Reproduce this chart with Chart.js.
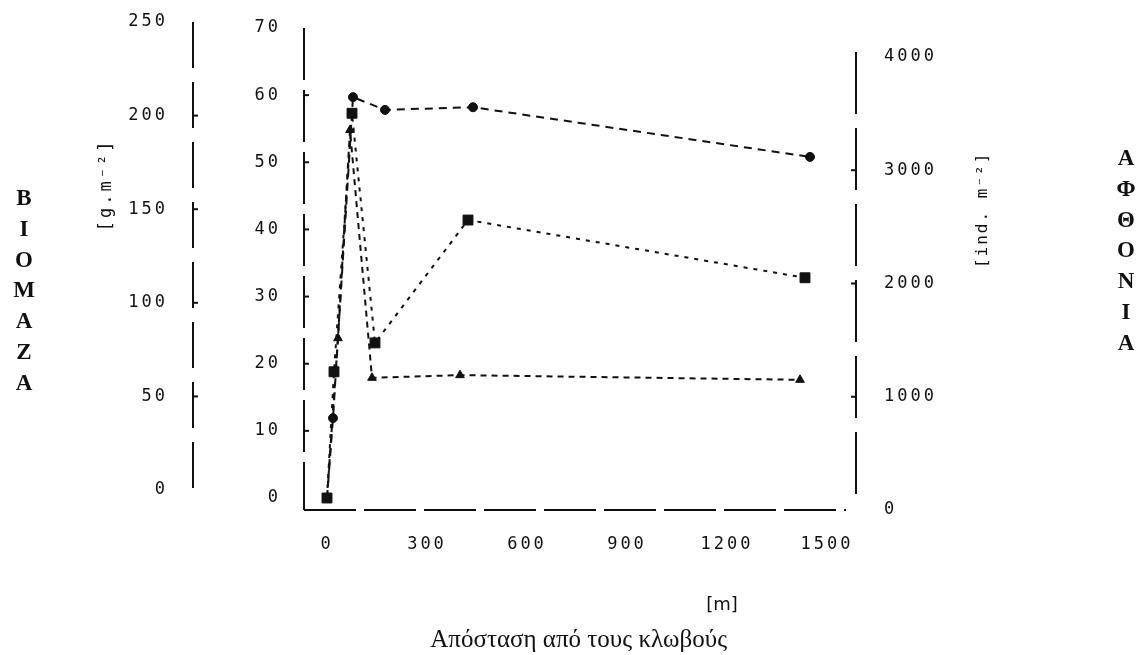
<!DOCTYPE html>
<html lang="el">
<head>
  <meta charset="UTF-8" />
  <meta name="viewport" content="width=device-width, initial-scale=1.0" />
  <title>Βιομάζα και αφθονία</title>
  <script src="https://cdn.jsdelivr.net/npm/chart.js"></script>
  <style>
    html, body { margin: 0; padding: 0; background: #fff; }
    #wrap { position: relative; width: 1142px; height: 655px; }
    .side {
      position: absolute;
      width: 40px;
      text-align: center;
      font: bold 23px "Liberation Serif", serif;
      line-height: 30.8px;
      color: #111;
    }
  </style>
</head>
<body>
  <div id="wrap">
    <canvas id="chart"></canvas>
    <div class="side" style="left:4px; top:183px">Β<br>Ι<br>Ο<br>Μ<br>Α<br>Ζ<br>Α</div>
    <div class="side" style="left:1106px; top:143px">Α<br>Φ<br>Θ<br>Ο<br>Ν<br>Ι<br>Α</div>
  </div>

  <script>
    // distance from the cages [m] and values (inner 0-70 axis)
    const starX = [0, 18, 78, 174, 438, 1449];
    const starY = [0, 11.9, 59.7, 57.8, 58.2, 50.8];
    const squareX = [0, 21, 75, 144, 423, 1434];
    const squareY = [0, 18.8, 57.3, 23.1, 41.4, 32.8];
    const triX = [0, 33, 69, 135, 399, 1419];
    const triY = [0, 23.8, 54.8, 17.9, 18.3, 17.6];

    // tick labels
    const xTicks = [0, 300, 600, 900, 1200, 1500];
    const innerTicks = [0, 10, 20, 30, 40, 50, 60, 70];
    const biomassTicks = [0, 50, 100, 150, 200, 250];
    const abundanceTicks = [0, 1000, 2000, 3000, 4000];

    const ink = '#111';
    const tickFont = { family: '"DejaVu Sans Mono", monospace', size: 17 };
    const pts = (xs, ys) => xs.map((x, i) => ({ x, y: ys[i] }));
    const setTicks = vals => s => { s.ticks = vals.map(v => ({ value: v })); };

    // invisible tick marks push the labels away from the axis
    // (tick padding would also grow the top padding of the chart area)
    const gap = len => ({
      display: true,
      drawOnChartArea: false,
      drawTicks: true,
      tickLength: len,
      color: 'rgba(0,0,0,0)'
    });

    const vertical = (ctx, text, x, y, font, spacing) => {
      ctx.save();
      ctx.translate(x, y);
      ctx.rotate(-Math.PI / 2);
      ctx.font = font;
      ctx.letterSpacing = spacing;
      ctx.fillText(text, 0, 0);
      ctx.restore();
    };

    // broken axis lines like the scanned figure, with short inward tick stubs
    const dashedAxes = {
      id: 'dashedAxes',
      beforeDatasetsDraw(chart) {
        const { ctx, scales, chartArea } = chart;
        const seg = (x1, y1, x2, y2, dash) => {
          ctx.setLineDash(dash);
          ctx.beginPath();
          ctx.moveTo(x1, y1);
          ctx.lineTo(x2, y2);
          ctx.stroke();
        };
        ctx.save();
        ctx.strokeStyle = ink;
        ctx.lineWidth = 2;
        const yB = scales.yB, y = scales.y, yR = scales.yR;
        seg(yB.right, yB.getPixelForValue(250), yB.right, yB.getPixelForValue(0) + 3, [46, 14]);
        seg(y.right, y.getPixelForValue(70), y.right, chartArea.bottom, [52, 10]);
        seg(yR.left, yR.getPixelForValue(4000) - 5, yR.left, chartArea.bottom - 10, [62, 14]);
        seg(chartArea.left, chartArea.bottom, chartArea.right - 10, chartArea.bottom, [52, 8]);
        ctx.setLineDash([]);
        biomassTicks.slice(1, -1).forEach(v => seg(yB.right, yB.getPixelForValue(v), yB.right + 5, yB.getPixelForValue(v), []));
        innerTicks.slice(1, -1).forEach(v => seg(y.right, y.getPixelForValue(v), y.right + 5, y.getPixelForValue(v), []));
        abundanceTicks.slice(1, -1).forEach(v => seg(yR.left, yR.getPixelForValue(v), yR.left - 5, yR.getPixelForValue(v), []));
        ctx.restore();
      }
    };

    const axisText = {
      id: 'axisText',
      beforeLayout(chart) { chart.ctx.letterSpacing = '3px'; },
      beforeDraw(chart) { chart.ctx.letterSpacing = '3px'; },
      afterDraw(chart) {
        const { ctx, scales, chartArea } = chart;
        ctx.save();
        ctx.fillStyle = ink;
        ctx.textAlign = 'center';
        ctx.textBaseline = 'middle';
        vertical(ctx, '[g.m⁻²]', scales.yB.left + 107, scales.yB.getPixelForValue(163),
          '17px "DejaVu Sans Mono"', '3px');
        vertical(ctx, '[ind. m⁻²]', scales.yR.left + 127, scales.yR.getPixelForValue(2650),
          '16px "DejaVu Sans Mono"', '2px');
        ctx.letterSpacing = '0px';
        ctx.font = '18px "DejaVu Sans"';
        ctx.fillText('[m]', scales.x.getPixelForValue(1185), chartArea.bottom + 95);
        ctx.font = '25px "Liberation Serif"';
        ctx.fillText('Απόσταση από τους κλωβούς', scales.x.getPixelForValue(755), chartArea.bottom + 130);
        ctx.restore();
      }
    };

    const series = (data, dash, style, radius) => ({
      data,
      yAxisID: 'y',
      borderColor: ink,
      borderWidth: 2,
      borderDash: dash,
      pointStyle: style,
      pointRadius: radius,
      pointBackgroundColor: ink,
      pointBorderColor: ink,
      pointBorderWidth: 1,
      fill: false,
      tension: 0
    });

    new Chart(document.getElementById('chart'), {
      type: 'line',
      data: {
        datasets: [
          series(pts(starX, starY), [8, 6], 'circle', 4.5),
          series(pts(squareX, squareY), [4, 6], 'rect', 7),
          series(pts(triX, triY), [6, 5], 'triangle', 5)
        ]
      },
      options: {
        responsive: true,
        maintainAspectRatio: false,
        animation: false,
        events: [],
        layout: { padding: { top: 20, left: 0, right: 0, bottom: 0 } },
        plugins: { legend: { display: false }, tooltip: { enabled: false } },
        scales: {
          x: {
            type: 'linear',
            min: -69, max: 1587,
            afterBuildTicks: setTicks(xTicks),
            afterFit: s => { s.height = 145; },
            grid: gap(24),
            border: { display: false },
            ticks: { padding: 0, font: tickFont, color: ink, maxRotation: 0, autoSkip: false, callback: v => String(v) }
          },
          yB: {
            position: 'left',
            weight: 2,
            min: -10.68, max: 251.07,
            afterBuildTicks: setTicks(biomassTicks),
            afterFit: s => { s.width = 193; },
            grid: gap(25),
            border: { display: false },
            ticks: { padding: 0, font: tickFont, color: ink, autoSkip: false, callback: v => String(v) }
          },
          y: {
            position: 'left',
            weight: 1,
            min: -1.787, max: 71.19,
            afterBuildTicks: setTicks(innerTicks),
            afterFit: s => { s.width = 111; },
            grid: gap(23),
            border: { display: false },
            ticks: { padding: 0, font: tickFont, color: ink, autoSkip: false, callback: v => String(v) }
          },
          yR: {
            position: 'right',
            min: 0, max: 4326.7,
            afterBuildTicks: setTicks(abundanceTicks),
            afterFit: s => { s.width = 286; },
            grid: gap(28),
            border: { display: false },
            ticks: { padding: 0, font: tickFont, color: ink, autoSkip: false, callback: v => String(v) }
          }
        }
      },
      plugins: [dashedAxes, axisText]
    });
  </script>
</body>
</html>
